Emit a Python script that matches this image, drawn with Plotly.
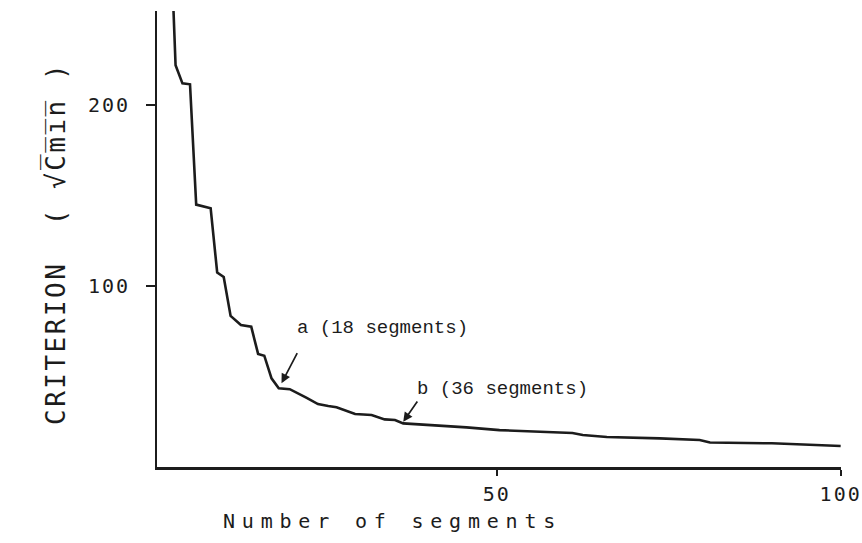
import plotly.graph_objects as go

# Criterion value against the number of segments used
segments = [3, 3.3, 4.3, 5.4, 6.3, 8.4, 9.35, 10.3, 11.3, 12.8, 14.3, 15.3, 16.2,
            17.25, 18.3, 19.9, 22.3, 24.0, 25.5, 26.7, 29.4, 31.8, 33.7, 35.2,
            36.4, 40.7, 45.6, 50.4, 55.2, 61.0, 62.5, 66.0, 73.7, 79.5, 81.0,
            90.0, 100.0]
criterion = [252, 222, 212, 211.5, 145, 143, 107.5, 105, 83.5, 78.5, 77.5, 62.5,
             61.5, 49, 43.5, 43, 38.3, 34.8, 33.7, 33, 29.3, 28.7, 26.3, 26,
             24.1, 23.2, 21.9, 20.4, 19.5, 18.8, 17.7, 16.6, 15.8, 14.9, 13.5,
             13.1, 11.6]

x_ticks = [50, 100]
y_ticks = [100, 200]

# labelled points: (text, arrow tip x, tip y, tail x, tail y, text x, text y)
marks = [
    ("a (18 segments)", 18.7, 46.3, 21.1, 63.7, 20.6, 76.8),
    ("b (36 segments)", 36.4, 25.0, 38.6, 37.0, 38.1, 43.1),
]

INK = "#1c1c1c"
PLOT_FONT = "DejaVu Sans Mono"


def spaced(s, px):
    return f'<span style="letter-spacing:{px}px">{s}</span>'


fig = go.Figure()
fig.add_trace(go.Scatter(
    x=segments, y=criterion, mode="lines",
    line=dict(color=INK, width=2.6),
    hoverinfo="skip", showlegend=False,
))

annotations = []
for text, tx, ty, ax, ay, lx, ly in marks:
    annotations.append(dict(
        x=tx, y=ty, ax=ax, ay=ay, xref="x", yref="y", axref="x", ayref="y",
        text="", showarrow=True, arrowhead=2, arrowsize=1.1, arrowwidth=1.7,
        arrowcolor=INK,
    ))
    annotations.append(dict(
        x=lx, y=ly, xref="x", yref="y", text=text, showarrow=False,
        xanchor="left", yanchor="middle",
        font=dict(family="Liberation Mono", size=19, color=INK),
    ))

# axis titles in the plotter lettering
annotations.append(dict(
    x=(392 - 157) / 684, y=(467 - 521) / 456, xref="paper", yref="paper",
    text=spaced("Number of segments", 6.8), showarrow=False,
    xanchor="center", yanchor="middle",
    font=dict(family=PLOT_FONT, size=20, color=INK),
))
annotations.append(dict(
    x=(55 - 157) / 684, y=(467 - 244) / 456, xref="paper", yref="paper",
    text=spaced("CRITERION  ( \u221aC\u0305m\u0305i\u0305n\u0305 )", 2.5),
    showarrow=False, textangle=-90, xanchor="center", yanchor="middle",
    font=dict(family=PLOT_FONT, size=26, color=INK),
))

fig.update_layout(
    width=862, height=543,
    margin=dict(l=157, r=21, t=11, b=76, autoexpand=False),
    paper_bgcolor="white", plot_bgcolor="white",
    annotations=annotations,
    xaxis=dict(
        range=[0.6, 100.05], showgrid=False, zeroline=False,
        showline=True, linecolor=INK, linewidth=2.5,
        ticks="outside", ticklen=6, tickwidth=1.5, tickcolor=INK,
        tickvals=x_ticks, ticktext=[spaced(str(v), 2) for v in x_ticks],
        tickfont=dict(family=PLOT_FONT, size=20, color=INK),
        ticklabelstandoff=1, ticklabeloverflow="allow", automargin=False,
    ),
    yaxis=dict(
        range=[0, 252], showgrid=False, zeroline=False,
        showline=True, linecolor=INK, linewidth=2,
        ticks="outside", ticklen=9, tickwidth=1.5, tickcolor=INK,
        tickvals=y_ticks, ticktext=[spaced(str(v), 2) for v in y_ticks],
        tickfont=dict(family=PLOT_FONT, size=20, color=INK),
        ticklabelstandoff=12, automargin=False,
    ),
)

fig.write_html("out.html")
